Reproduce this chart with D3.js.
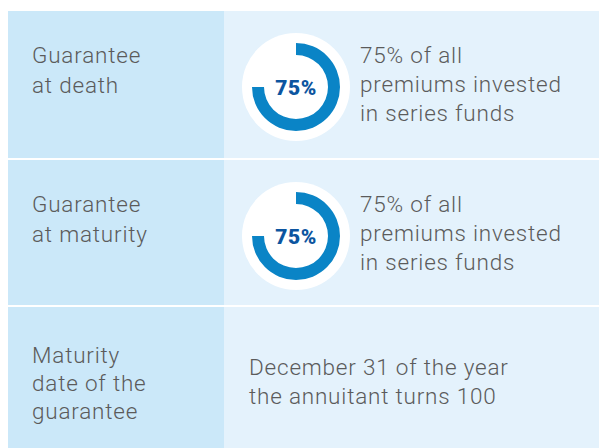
<!DOCTYPE html>
<html>
<head>
<meta charset="utf-8">
<script src="https://cdn.jsdelivr.net/npm/d3@7"></script>
<style>
  body { margin: 0; background: #fff; }
  text { font-family: Roboto, "Noto Sans", sans-serif; }
</style>
</head>
<body>
<svg id="chart" width="599" height="448"></svg>
<script>
// row headings (left column)
const rowLabels = [
  ["Guarantee", "at death"],
  ["Guarantee", "at maturity"],
  ["Maturity", "date of the", "guarantee"]
];
// guarantee percentage per row (null = no donut)
const percents = [75, 75, null];
// descriptions (right column)
const descriptions = [
  ["75% of all", "premiums invested", "in series funds"],
  ["75% of all", "premiums invested", "in series funds"],
  ["December 31 of the year", "the annuitant turns 100"]
];

const W = 599, H = 448;
const svg = d3.select("#chart");

const rowTops = [11, 160, 307];
const rowBottoms = [158, 305, H];
const leftX = 8, splitX = 224;

const angle = d3.scaleLinear().domain([0, 100]).range([0, 2 * Math.PI]);
const arc = d3.arc().innerRadius(32).outerRadius(44).startAngle(0);

rowLabels.forEach(function(lines, i) {
  let g = svg.append("g");
  let top = rowTops[i], bot = rowBottoms[i];

  g.append("rect")
    .attr("x", leftX).attr("y", top)
    .attr("width", splitX - leftX).attr("height", bot - top)
    .attr("fill", "#cbe8f9");
  g.append("rect")
    .attr("x", splitX).attr("y", top)
    .attr("width", W - splitX).attr("height", bot - top)
    .attr("fill", "#e4f2fc");

  // left heading
  let n = lines.length;
  let lh = n == 3 ? 28 : 30;
  let firstBase = n == 3 ? top + 56 : top + 52;
  g.append("text")
    .attr("fill", "#5b5b5b")
    .attr("font-size", 22.5)
    .attr("font-weight", 300)
    .attr("letter-spacing", 0.8)
    .selectAll("tspan")
    .data(lines)
    .enter().append("tspan")
    .attr("x", 32)
    .attr("y", function(d, j) { return firstBase + j * lh; })
    .text(function(d) { return d; });

  let p = percents[i];
  let desc = descriptions[i];
  let cx = 296, cy = top + 76;

  if (p != null) {
    g.append("circle")
      .attr("cx", cx).attr("cy", cy).attr("r", 54)
      .attr("fill", "#ffffff");
    g.append("path")
      .attr("transform", "translate(" + cx + "," + cy + ")")
      .attr("d", arc.endAngle(angle(p))())
      .attr("fill", "#0a84c6");
    g.append("text")
      .attr("x", cx).attr("y", cy + 8)
      .attr("text-anchor", "middle")
      .attr("fill", "#0c55a0")
      .attr("font-size", 21)
      .attr("font-weight", 900)
      .attr("letter-spacing", 0.6)
      .attr("font-family", "Lato, Roboto, sans-serif")
      .text(p + "%");
  }

  let dx = p != null ? 360 : 249;
  let dBase = p != null ? top + 52 : top + 68;
  g.append("text")
    .attr("fill", "#5b5b5b")
    .attr("font-size", 22.5)
    .attr("font-weight", 300)
    .attr("letter-spacing", 0.8)
    .selectAll("tspan")
    .data(desc)
    .enter().append("tspan")
    .attr("x", dx)
    .attr("y", function(d, j) { return dBase + j * 29; })
    .text(function(d) { return d; });
});
</script>
</body>
</html>
